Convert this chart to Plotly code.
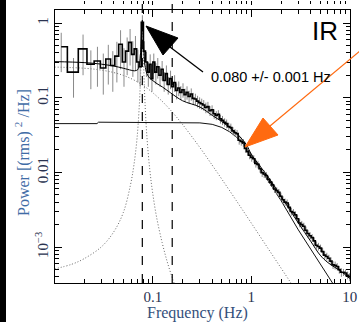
import plotly.graph_objects as go

# ---------------- data ----------------
data_freq = [0.0117, 0.0156, 0.0195, 0.0234, 0.0273, 0.0313, 0.0352, 0.0391, 0.0430, 0.0469,
             0.0508, 0.0547, 0.0586, 0.0625, 0.0664, 0.0703, 0.0742, 0.0781, 0.0820, 0.0859,
             0.0898, 0.0938, 0.0977,
             0.102, 0.107, 0.112, 0.118, 0.124, 0.130, 0.137, 0.143, 0.151, 0.158, 0.166, 0.174,
             0.183, 0.192, 0.202,
             0.212, 0.222, 0.233, 0.245, 0.257, 0.270, 0.284, 0.298, 0.313, 0.328, 0.345, 0.362,
             0.380, 0.399, 0.419, 0.440, 0.462, 0.485,
             0.509, 0.535, 0.561, 0.589, 0.619, 0.650, 0.682, 0.716, 0.752, 0.790, 0.829, 0.871,
             0.914, 0.960,
             1.008, 1.058, 1.111, 1.167, 1.225, 1.287, 1.351, 1.418, 1.489, 1.564, 1.642, 1.724,
             1.810, 1.901, 1.996,
             2.096, 2.200, 2.310, 2.426, 2.547, 2.675, 2.808, 2.949, 3.096, 3.251, 3.414, 3.584,
             3.763, 3.952, 4.149,
             4.357, 4.575, 4.803, 5.043, 5.296, 5.560, 5.838, 6.130, 6.437, 6.759, 7.097, 7.451,
             7.824, 8.215, 8.626, 9.057, 9.510, 9.986]
data_power = [0.48, 0.22, 0.45, 0.28, 0.31, 0.25, 0.33, 0.27, 0.36, 0.52,
              0.30, 0.42, 0.55, 0.38, 0.45, 0.30, 0.26, 1.02, 0.42, 0.30,
              0.22, 0.28, 0.18,
              0.30, 0.22, 0.26, 0.20, 0.24, 0.17, 0.21, 0.15, 0.18, 0.14, 0.16, 0.125,
              0.135, 0.118, 0.128,
              0.110, 0.118, 0.104, 0.112, 0.098, 0.096, 0.090, 0.086, 0.083, 0.080, 0.074, 0.076,
              0.067, 0.069, 0.061, 0.058, 0.060, 0.052,
              0.050, 0.047, 0.045, 0.041, 0.040, 0.036, 0.034, 0.033, 0.027, 0.026, 0.025, 0.021,
              0.019, 0.017,
              0.0158, 0.0152, 0.0132, 0.0128, 0.0112, 0.0099, 0.0095, 0.0091, 0.0081, 0.0074, 0.0068, 0.0060,
              0.0057, 0.0054, 0.0048,
              0.0043, 0.0040, 0.0039, 0.0034, 0.0030, 0.0029, 0.0027, 0.0024, 0.0021, 0.0020, 0.0019, 0.00168,
              0.00152, 0.00142, 0.00134,
              0.00121, 0.00106, 0.00102, 0.00097, 0.00087, 0.00078, 0.00075, 0.00071, 0.00065, 0.00058, 0.00057, 0.00055,
              0.00050, 0.00046, 0.00046, 0.00045, 0.00042, 0.00040]
data_err = [0.26, 0.12, 0.25, 0.15, 0.17, 0.14, 0.18, 0.15, 0.20, 0.28,
            0.16, 0.22, 0.28, 0.19, 0.22, 0.14, 0.12, 0.25, 0.15, 0.11,
            0.08, 0.10, 0.06,
            0.09, 0.07, 0.08, 0.06, 0.07, 0.05, 0.06, 0.04, 0.05, 0.035, 0.04, 0.03,
            0.03, 0.025, 0.028,
            0.022, 0.024, 0.020, 0.021, 0.018, 0.017, 0.016, 0.015, 0.014, 0.013, 0.012, 0.012,
            0.010, 0.010, 0.009, 0.008, 0.008, 0.007,
            0.007, 0.006, 0.006, 0.005, 0.005, 0.0045, 0.004, 0.004, 0.0035, 0.0032, 0.003, 0.0026,
            0.0023, 0.002,
            0.0019, 0.0018, 0.0016, 0.0015, 0.0013, 0.0012, 0.0011, 0.001, 0.0009, 0.0008, 0.00075, 0.0007,
            0.00064, 0.0006, 0.00055,
            0.0005, 0.00046, 0.00043, 0.0004, 0.00036, 0.00033, 0.0003, 0.00028, 0.00026, 0.00024, 0.00022, 0.0002,
            0.00018, 0.00016, 0.00015,
            0.00014, 0.00013, 0.00012, 0.00011, 0.0001, 0.0001, 0.00009, 0.00008, 0.00008, 0.00007, 0.00007, 0.00006,
            0.00006, 0.00006, 0.00005, 0.00005, 0.00005, 0.00005]

total_freq = [0.01, 0.02, 0.03, 0.04, 0.05, 0.06, 0.065, 0.07, 0.073, 0.075, 0.077, 0.078, 0.079,
              0.081, 0.083, 0.087, 0.093, 0.1, 0.11, 0.125, 0.15, 0.2, 0.3, 0.4, 0.5, 0.6, 0.7,
              0.8, 0.9, 1.0, 1.5, 2.0, 3.0, 4.0, 5.0, 6.0, 8.0, 10.0]
total_power = [0.304, 0.295, 0.281, 0.265, 0.248, 0.233, 0.229, 0.237, 0.289, 0.405, 0.852, 1.09, 0.85,
               0.396, 0.273, 0.209, 0.182, 0.169, 0.154, 0.139, 0.117, 0.091, 0.075, 0.058, 0.048, 0.040, 0.034,
               0.028, 0.023, 0.0175, 0.0085, 0.0048, 0.0021, 0.0012, 0.00078, 0.00062, 0.00048, 0.00038]

low_freq = [0.01, 0.02, 0.03, 0.04, 0.05, 0.06, 0.07, 0.08, 0.09, 0.1, 0.12, 0.15, 0.2, 0.3,
            0.4, 0.5, 0.7, 1.0, 1.5, 2.0, 2.5, 3.0]
low_power = [0.257, 0.248, 0.234, 0.217, 0.199, 0.180, 0.162, 0.145, 0.130, 0.116, 0.0935, 0.0688,
             0.0438, 0.0215, 0.0125, 0.00815, 0.00423, 0.00209, 0.00093, 0.000525, 0.000337, 0.000234]

qpo_freq = [0.01, 0.015, 0.02, 0.03, 0.04, 0.05, 0.059, 0.064, 0.069, 0.073, 0.075, 0.077, 0.078,
            0.079, 0.081, 0.083, 0.087, 0.093, 0.099, 0.109, 0.124, 0.139, 0.159, 0.175]
qpo_power = [5.1e-4, 5.9e-4, 7.0e-4, 1.01e-3, 1.6e-3, 2.9e-3, 6.7e-3, 0.0124, 0.029, 0.088, 0.208, 0.657, 0.9,
             0.657, 0.208, 0.088, 0.029, 0.0107, 0.0055, 0.0025, 0.00115, 6.5e-4, 3.7e-4, 2.6e-4]

broad_freq = [0.01, 0.027, 0.028, 0.1, 0.2, 0.3, 0.4, 0.5, 0.6, 0.7, 0.8, 0.9, 1.0, 1.5, 2.0,
              3.0, 4.0, 5.0, 6.0, 7.0]
broad_power = [0.045, 0.045, 0.047, 0.047, 0.047, 0.046, 0.044, 0.040, 0.035, 0.030, 0.025, 0.021,
               0.017, 0.0075, 0.0042, 0.0017, 0.00095, 0.0006, 0.00042, 0.0003]

qpo_marks = [0.078, 0.157]

x_tick_vals = [0.1, 1, 10]
x_tick_text = ["0.1", "1", "10"]
y_tick_vals = [0.001, 0.01, 0.1, 1]
y_tick_text = ["10<sup>\u22123</sup>", "0.01", "0.1", "1"]

label_text = "0.080 +/- 0.001 Hz"
panel_text = "IR"
x_title = "Frequency (Hz)"
y_title = "Power [(rms) <sup>2</sup> /Hz]"

# ---------------- geometry helpers (pixels -> paper) ----------------
W, H = 359, 322
ML, MR, MT, MB = 55, 9, 0, 39
PW = W - ML - MR
PH = H - MT - MB
FRAME_TOP = 10


def px(x):
    return (x - ML) / PW


def py(y):
    return (PH - y) / PH


fig = go.Figure()

fig.add_trace(go.Scatter(x=low_freq, y=low_power, mode="lines",
                         line=dict(color="#666666", width=1, dash="1px,2px", shape="spline"),
                         showlegend=False, hoverinfo="skip"))
fig.add_trace(go.Scatter(x=qpo_freq, y=qpo_power, mode="lines",
                         line=dict(color="#666666", width=1, dash="1px,2px", shape="spline"),
                         showlegend=False, hoverinfo="skip"))
fig.add_trace(go.Scatter(x=broad_freq, y=broad_power, mode="lines",
                         line=dict(color="#111111", width=1),
                         showlegend=False, hoverinfo="skip"))
fig.add_trace(go.Scatter(x=data_freq, y=data_power, mode="lines",
                         line=dict(color="black", width=1.6, shape="hvh"),
                         error_y=dict(type="data", array=data_err, color="#8a8a8a",
                                      thickness=1, width=0),
                         showlegend=False, hoverinfo="skip"))
fig.add_trace(go.Scatter(x=total_freq, y=total_power, mode="lines",
                         line=dict(color="black", width=1, shape="spline"),
                         showlegend=False, hoverinfo="skip"))
# invisible trace to carry the top (upper-panel) tick axis
fig.add_trace(go.Scatter(x=data_freq[:1], y=data_power[:1], mode="markers",
                         marker=dict(opacity=0), xaxis="x2",
                         showlegend=False, hoverinfo="skip"))

for f in qpo_marks:
    fig.add_shape(type="line", xref="x", yref="paper", x0=f, x1=f, y0=0, y1=1,
                  line=dict(color="black", width=1.2, dash="dash"))

# left black scan border
fig.add_shape(type="rect", xref="paper", yref="paper",
              x0=px(0), x1=px(6), y0=py(H), y1=py(0),
              fillcolor="black", line=dict(width=0))

# black arrow
fig.add_shape(type="line", xref="paper", yref="paper",
              x0=px(203), y0=py(72), x1=px(170), y1=py(47),
              line=dict(color="black", width=1.3))
fig.add_shape(type="path", xref="paper", yref="paper",
              path=f"M {px(146)},{py(26)} L {px(178)},{py(38)} L {px(163)},{py(55)} Z",
              fillcolor="black", line=dict(color="black", width=1))

# orange arrow
fig.add_shape(type="line", xref="paper", yref="paper",
              x0=px(360), y0=py(51), x1=px(270), y1=py(126),
              line=dict(color="#ff6a10", width=1.2))
fig.add_shape(type="path", xref="paper", yref="paper",
              path=f"M {px(245)},{py(147)} L {px(263)},{py(118)} L {px(278)},{py(135)} Z",
              fillcolor="#ff6a10", line=dict(color="#ff6a10", width=1))

fig.add_annotation(x=px(325), y=py(31), xref="paper", yref="paper", text=panel_text,
                   showarrow=False, font=dict(family="Liberation Sans", size=26, color="black"),
                   xanchor="center", yanchor="middle")
fig.add_annotation(x=px(271), y=py(77.5), xref="paper", yref="paper", text=label_text,
                   showarrow=False, font=dict(family="Liberation Sans", size=14.5, color="black"),
                   xanchor="center", yanchor="middle")
fig.add_annotation(x=px(22), y=py(153), xref="paper", yref="paper", text=y_title,
                   showarrow=False, textangle=-90,
                   font=dict(family="Liberation Serif", size=16, color="#3f6ca6"),
                   xanchor="center", yanchor="middle")
fig.add_annotation(x=px(197), y=py(313), xref="paper", yref="paper", text=x_title,
                   showarrow=False,
                   font=dict(family="Liberation Serif", size=16, color="#34507c"),
                   xanchor="center", yanchor="middle")

xr = [-1.995, 1.002]
yr = [(23 - 283) / 74.7, (23 - FRAME_TOP) / 74.7]

fig.update_layout(
    width=W, height=H,
    margin=dict(l=ML, r=MR, t=MT, b=MB, pad=0),
    paper_bgcolor="white", plot_bgcolor="white",
    showlegend=False,
    hovermode=False,
    xaxis=dict(type="log", range=xr, showgrid=False, zeroline=False,
               showline=True, linecolor="black", linewidth=1, mirror="ticks",
               ticks="inside", ticklen=7, tickcolor="black", tickwidth=1,
               tickmode="array", tickvals=x_tick_vals, ticktext=x_tick_text,
               tickfont=dict(family="Liberation Serif", size=15, color="#2a3350"),
               minor=dict(ticks="inside", ticklen=4, dtick="D1", tickcolor="black", showgrid=False),
               anchor="y"),
    xaxis2=dict(type="log", range=xr, overlaying="x", anchor="free", position=1, side="top",
                showgrid=False, zeroline=False, showline=False, showticklabels=False,
                ticks="inside", ticklen=4, tickcolor="black", dtick=1,
                minor=dict(ticks="inside", ticklen=3, dtick="D1", tickcolor="black", showgrid=False)),
    yaxis=dict(type="log", range=yr, domain=[0, (PH - FRAME_TOP) / PH],
               showgrid=False, zeroline=False,
               showline=True, linecolor="black", linewidth=1, mirror="ticks",
               ticks="inside", ticklen=7, tickcolor="black", tickwidth=1,
               tickmode="array", tickvals=y_tick_vals, ticktext=y_tick_text, tickangle=-90,
               tickfont=dict(family="Liberation Serif", size=15, color="#2a3350"),
               minor=dict(ticks="inside", ticklen=4, dtick="D1", tickcolor="black", showgrid=False)),
)

fig.write_html("out.html", config={"displayModeBar": False, "staticPlot": True},
               post_script="document.body.style.margin='0px';document.body.style.padding='0px';")
